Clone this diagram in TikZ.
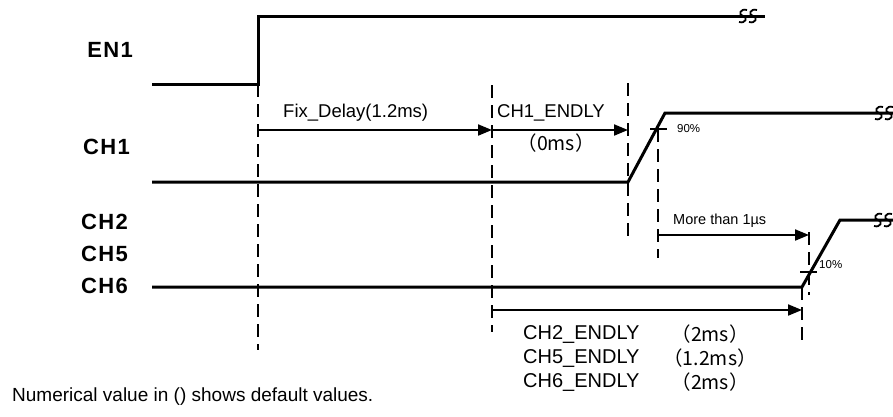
\documentclass[tikz,border=0pt]{standalone}
\usepackage{fontspec}
\setmainfont{Liberation Sans}
\newfontfamily\jpfont{Noto Sans CJK JP}
\usetikzlibrary{arrows.meta}

% two small s-shaped strokes that cut a line
\newcommand{\brkmark}[1]{%
  \draw[brk,shift={(#1)}]
    (-1,-6) .. controls (-8,-8) and (-10,-1) .. (-5,0) .. controls (0,1) and (-2,8) .. (-9,6)
    (9,-6) .. controls (2,-8) and (0,-1) .. (5,0) .. controls (10,1) and (8,8) .. (1,6);}

\begin{document}
\begin{tikzpicture}[x=1pt, y=-1pt,
    sig/.style={line width=3pt, line join=miter},
    guide/.style={line width=2pt, dash pattern=on 13pt off 7pt},
    dim/.style={line width=2pt, -{Triangle[length=14pt,width=11pt]}},
    pcttick/.style={line width=1.8pt},
    brk/.style={line width=1.8pt},
    signame/.style={font=\fontsize{22}{26}\selectfont\bfseries\addfontfeatures{LetterSpace=6},
                    anchor=east, inner sep=0pt},
    lbl/.style={font=\fontsize{18.5}{21}\selectfont, inner sep=0pt},
    biglbl/.style={font=\fontsize{20}{23}\selectfont, inner sep=0pt, anchor=west},
    jplbl/.style={font=\fontsize{19.5}{22}\selectfont\jpfont, inner sep=0pt},
    smalltxt/.style={font=\fontsize{14.5}{17}\selectfont, inner sep=0pt, anchor=west},
    pcttxt/.style={font=\fontsize{11.5}{13}\selectfont, inner sep=0pt, anchor=west}]

    \useasboundingbox (0,0) rectangle (893,416);

    % Signal names
    \node[signame] (en1) at (133,50) {EN1};
    \node[signame] (ch1) at (130,147) {CH1};
    \node[signame] (ch2) at (128,222) {CH2};
    \node[signame] (ch5) at (128,254) {CH5};
    \node[signame] (ch6) at (128,286) {CH6};

    % Define waveform corners
    \coordinate (en1a) at (152,84);
    \coordinate (en1b) at (258,84);
    \coordinate (en1c) at (258,16);
    \coordinate (en1d) at (765,16);
    \coordinate (ch1a) at (152,182);
    \coordinate (ch1b) at (628,182);
    \coordinate (ch1c) at (665,113);
    \coordinate (ch1d) at (893,113);
    \coordinate (ch6a) at (152,287);
    \coordinate (ch6b) at (802,287);
    \coordinate (ch6c) at (840,220);
    \coordinate (ch6d) at (893,220);

    % Draw waveforms
    \draw[sig] (en1a) -- (en1b) -- (en1c) -- (en1d);
    \draw[sig] (ch1a) -- (ch1b) -- (ch1c) -- (ch1d);
    \draw[sig] (ch6a) -- (ch6b) -- (ch6c) -- (ch6d);
    \coordinate (en1brk) at (748,16);
    \coordinate (ch1brk) at (884,113);
    \coordinate (ch6brk) at (883,220);
    \brkmark{en1brk}
    \brkmark{ch1brk}
    \brkmark{ch6brk}

    % Timing guides
    \coordinate (g0a) at (258,84);  \coordinate (g0b) at (258,350);
    \coordinate (g1a) at (492,85);  \coordinate (g1b) at (492,332);
    \coordinate (g2a) at (628,83);  \coordinate (g2b) at (628,237);
    \coordinate (g3a) at (658,129); \coordinate (g3b) at (658,258);
    \coordinate (g4a) at (809,232); \coordinate (g4b) at (809,295);
    \coordinate (g5a) at (802,287); \coordinate (g5b) at (802,347);
    \foreach \g in {g0,g1,g2,g3,g4,g5}
        \draw[guide] (\g a) -- (\g b);

    % 90% and 10% marks
    \coordinate (p90a) at (650,129); \coordinate (p90b) at (667,129);
    \coordinate (p10a) at (800,272); \coordinate (p10b) at (817,272);
    \draw[pcttick] (p90a) -- (p90b);
    \draw[pcttick] (p10a) -- (p10b);
    \node[pcttxt] (p90) at (677,129) {90\%};
    \node[pcttxt] (p10) at (819,265) {10\%};

    % Delay arrows
    \coordinate (fda) at (258,130); \coordinate (fdb) at (492,130);
    \coordinate (e1b) at (628,130);
    \coordinate (mta) at (658,235); \coordinate (mtb) at (809,235);
    \coordinate (e2a) at (492,310); \coordinate (e2b) at (802,310);
    \draw[dim] (fda) -- (fdb);
    \draw[dim] (fdb) -- (e1b);
    \draw[dim] (mta) -- (mtb);
    \draw[dim] (g1a |- e2a) -- (e2a) -- (e2b);

    % Labels
    \node[lbl, anchor=west] (fdl) at (283,113) {Fix\_Delay(1.2ms)};
    \node[lbl, anchor=west] (e1l) at (497,113) {CH1\_ENDLY};
    \node[jplbl] (e1v) at (556,143) {（0ms）};
    \node[smalltxt] (mtl) at (673,221) {More than 1µs};
    \node[biglbl] (e2l) at (523,334) {CH2\_ENDLY};
    \node[biglbl] (e5l) at (523,358) {CH5\_ENDLY};
    \node[biglbl] (e6l) at (523,382) {CH6\_ENDLY};
    \node[jplbl] (e2v) at (710,334) {（2ms）};
    \node[jplbl] (e5v) at (710,358) {（1.2ms）};
    \node[jplbl] (e6v) at (710,382) {（2ms）};

    % Note
    \node[font=\fontsize{19}{22}\selectfont, anchor=west, inner sep=0pt] (note) at (12,397)
        {Numerical value in () shows default values.};
\end{tikzpicture}
\end{document}
